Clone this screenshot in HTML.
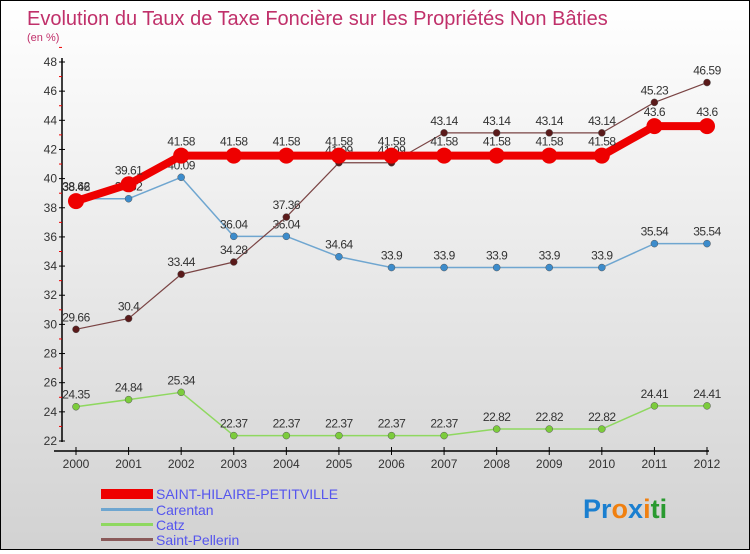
<!DOCTYPE html>
<html><head><meta charset="utf-8"><style>
body{margin:0;width:750px;height:550px;overflow:hidden;font-family:"Liberation Sans",sans-serif}
#c{position:absolute;left:0;top:0;width:748px;height:548px;border:1px solid #000;background:linear-gradient(#ffffff,#d2d2d2)}
</style></head><body>
<div id="c">
<svg id="s" width="748" height="548">
<text x="26" y="24" font-size="20" fill="#c0306a">Evolution du Taux de Taxe Foncière sur les Propriétés Non Bâties</text>
<text x="26" y="40" font-size="11" fill="#c0306a">(en %)</text>
<g id="g"></g>
<g>
<rect x="100" y="488" width="52" height="10" fill="#e00"/>
<text x="155" y="498" font-size="14" fill="#5555ee">SAINT-HILAIRE-PETITVILLE</text>
<rect x="100" y="507" width="52" height="3" fill="#6fa6d0"/>
<text x="155" y="514" font-size="14" fill="#5555ee">Carentan</text>
<rect x="100" y="522" width="52" height="3" fill="#8fd860"/>
<text x="155" y="529" font-size="14" fill="#5555ee">Catz</text>
<rect x="100" y="537" width="52" height="3" fill="#8a5a5a"/>
<text x="155" y="544" font-size="14" fill="#5555ee">Saint-Pellerin</text>
</g>
<text x="582" y="517" font-size="27" font-weight="bold"><tspan fill="#1a7fd0">Pr</tspan><tspan fill="#f08010">o</tspan><tspan fill="#1a7fd0">x</tspan><tspan fill="#f08010">i</tspan><tspan fill="#2a9a30">ti</tspan></text>
</svg></div>
<script>
const years=[2000,2001,2002,2003,2004,2005,2006,2007,2008,2009,2010,2011,2012];
const yTicks=[22,24,26,28,30,32,34,36,38,40,42,44,46,48];
const shp=[38.46,39.61,41.58,41.58,41.58,41.58,41.58,41.58,41.58,41.58,41.58,43.6,43.6];
const carentan=[38.62,38.62,40.09,36.04,36.04,34.64,33.9,33.9,33.9,33.9,33.9,35.54,35.54];
const catz=[24.35,24.84,25.34,22.37,22.37,22.37,22.37,22.37,22.82,22.82,22.82,24.41,24.41];
const pellerin=[29.66,30.4,33.44,34.28,37.36,41.09,41.09,43.14,43.14,43.14,43.14,45.23,46.59];
const NS="http://www.w3.org/2000/svg",g=document.getElementById('g');
const X=i=>75+i*(706-75)/(years.length-1);
const Y=v=>440-(v-22)*(440-61)/26;
function el(t,a,p){const e=document.createElementNS(NS,t);for(const k in a)e.setAttribute(k,a[k]);(p||g).appendChild(e);return e;}
let a=el('line',{x1:61,y1:57,x2:61,y2:441,stroke:'#000','stroke-width':1.5});


a=el('line',{x1:53,y1:450,x2:708,y2:450,stroke:'#000','stroke-width':1.5});


yTicks.forEach(v=>{
 el('line',{x1:58,y1:Y(v),x2:64,y2:Y(v),stroke:'#000'});
 el('line',{x1:58,y1:Y(v+1),x2:61,y2:Y(v+1),stroke:'#e00'});
 const t=el('text',{x:56,y:Y(v)+4,'font-size':12,fill:'#333','text-anchor':'end'});t.textContent=v;
 
 
});
years.forEach((y,i)=>{
 el('line',{x1:X(i),y1:446,x2:X(i),y2:454,stroke:'#000'});
 const t=el('text',{x:X(i),y:467,'font-size':12,fill:'#333','text-anchor':'middle'});t.textContent=y;
 
 
});
function series(d,col,w,r,name,dot){
 const pl=el('polyline',{points:d.map((v,i)=>X(i)+','+Y(v)).join(' '),fill:'none',stroke:col,'stroke-width':w,'stroke-linejoin':'round'});
 
 
 d.forEach((v,i)=>{
  const c=el('circle',{cx:X(i),cy:Y(v),r:r,fill:dot,stroke:w>3?'none':'#555','stroke-width':0.5});
  
  
  const t=el('text',{x:X(i),y:Y(v)-(w>3?10:8),'font-size':12,fill:'#333','text-anchor':'middle','letter-spacing':'-0.5'});t.textContent=v;
  
  
 });
}
series(catz,'#8fd860',1.5,3.5,'catz','#7ccc3c');
series(carentan,'#6fa6d0',1.5,3.5,'carentan','#3c8ccc');
series(pellerin,'#7a4444',1.2,3.5,'saint-pellerin','#5a1a1a');
series(shp,'#ee0000',8,8,'saint-hilaire','#ee0000');
</script>
</body></html>
